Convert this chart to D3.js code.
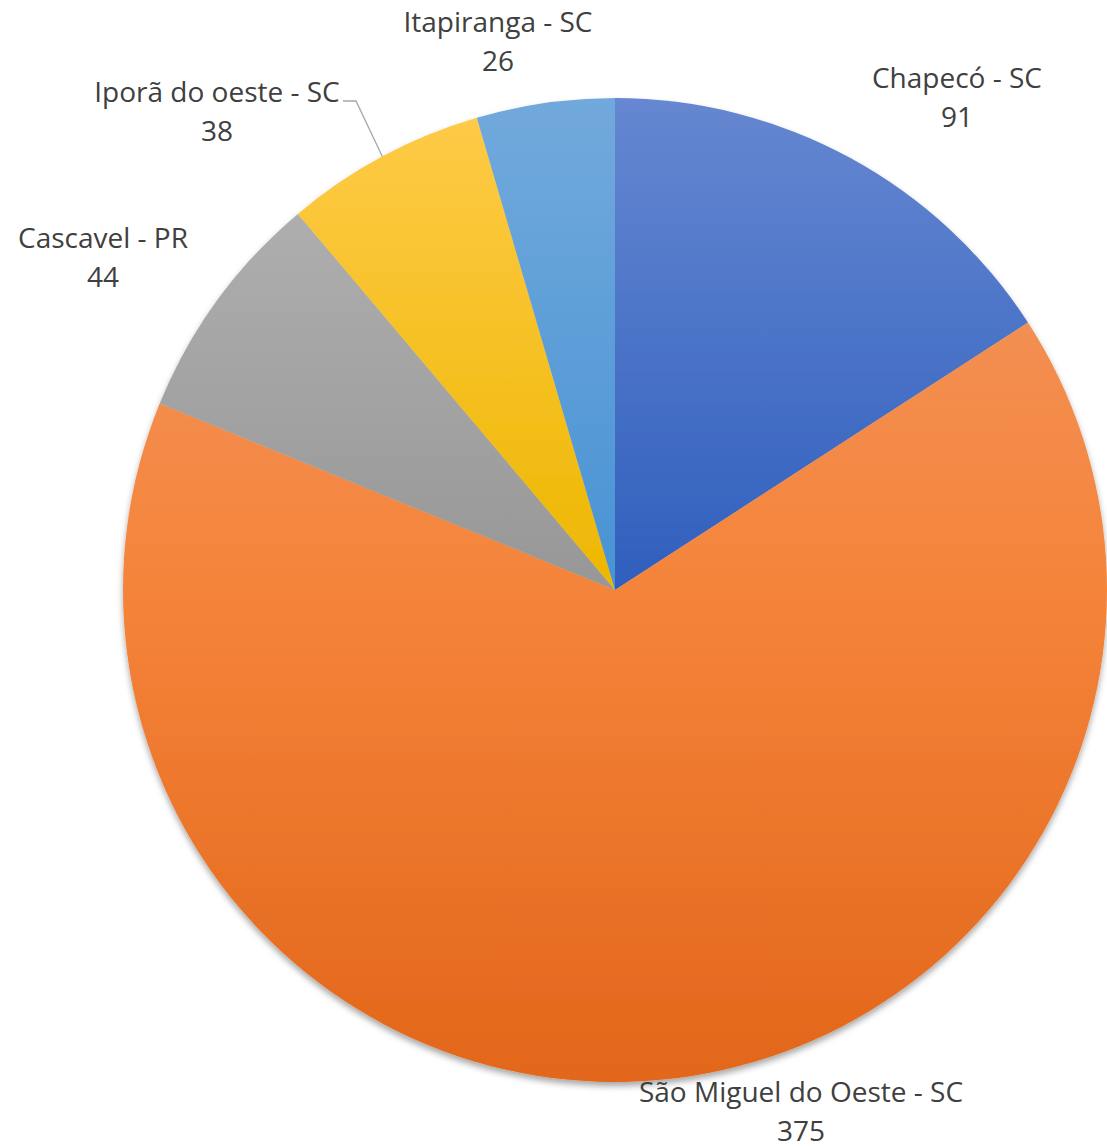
<!DOCTYPE html>
<html><head><meta charset="utf-8">
<script src="https://cdn.jsdelivr.net/npm/d3@7"></script>
<style>
html,body{margin:0;padding:0;background:#fff;}
svg{display:block;}
text{font-family:"Open Sans","Noto Sans",sans-serif;fill:#404040;}
</style></head><body>
<svg id="chart" width="1107" height="1148"></svg>
<script>
const categories = ["Chapecó - SC","São Miguel do Oeste - SC","Cascavel - PR","Iporã do oeste - SC","Itapiranga - SC"];
const values = [91, 375, 44, 38, 26];
const topColors = ["#6687d1","#f19867","#b5b5b5","#ffcb4a","#72a9dc"];
const midColors = ["#2f5fbd","#f5843a","#979797","#edb700","#4893d4"];
const botColors = ["#2552ad","#e2661a","#858585","#d9a600","#3b84c6"];
// label layout (center x, baseline y of first line)
const labelPos = [[957,88],[801,1102],[103,248],[217,102],[498,32]];

const W=1107,H=1148, cx=615, cy=590, R=492;
const svg=d3.select("#chart");
const defs=svg.append("defs");
const f=defs.append("filter").attr("id","sh").attr("x","-10%").attr("y","-10%").attr("width","120%").attr("height","120%");
f.append("feDropShadow").attr("dx",0).attr("dy",4).attr("stdDeviation",3).attr("flood-color","#000").attr("flood-opacity",0.35);
categories.forEach((c,i)=>{
  const g=defs.append("linearGradient").attr("id","g"+i).attr("gradientUnits","userSpaceOnUse")
    .attr("x1",0).attr("x2",0).attr("y1",-R).attr("y2",R);
  g.append("stop").attr("offset","0%").attr("stop-color",topColors[i]);
  g.append("stop").attr("offset","50%").attr("stop-color",midColors[i]);
  g.append("stop").attr("offset","100%").attr("stop-color",botColors[i]);
});
const data=categories.map((c,i)=>({c,v:values[i],i}));
const pie=d3.pie().value(d=>d.v).sort(null);
const arc=d3.arc().innerRadius(0).outerRadius(R);
const arcs=pie(data);
const gp=svg.append("g").attr("filter","url(#sh)");
const g=gp.append("g").attr("transform",`translate(${cx},${cy})`);
g.selectAll("path").data(arcs).join("path").attr("d",arc).attr("fill",d=>`url(#g${d.data.i})`);

// leader line for Iporã
const ip=arcs[3];
const mid=(ip.startAngle+ip.endAngle)/2;
const ex=cx+R*Math.sin(mid), ey=cy-R*Math.cos(mid);
svg.append("polyline").attr("points",`${343},${101} ${356},${101} ${ex},${ey}`)
  .attr("fill","none").attr("stroke","#a6a6a6").attr("stroke-width",1.3);

const lab=svg.append("g");
arcs.forEach((a,i)=>{
  const [x,y]=labelPos[i];
  const t=lab.append("text").attr("text-anchor","middle").attr("font-size",28);
  t.append("tspan").attr("x",x).attr("y",y).text(categories[i]);
  t.append("tspan").attr("x",x).attr("y",y+39).text(values[i]);
});
</script></body></html>
